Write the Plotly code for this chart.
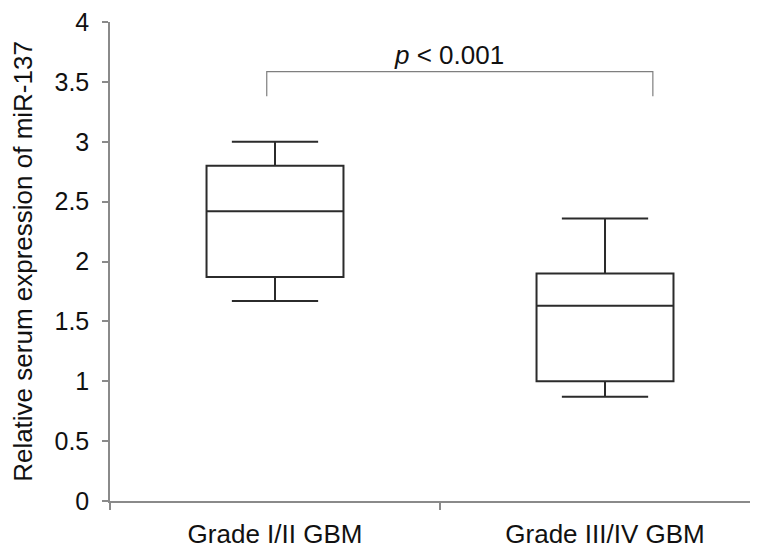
import plotly.graph_objects as go

groups = ["Grade I/II GBM", "Grade III/IV GBM"]
lower = [1.67, 0.87]
q1 = [1.87, 1.00]
median = [2.42, 1.63]
q3 = [2.80, 1.90]
upper = [3.00, 2.36]
y_ticks = [0, 0.5, 1, 1.5, 2, 2.5, 3, 3.5, 4]
y_tick_text = ["0", "0.5", "1", "1.5", "2", "2.5", "3", "3.5", "4"]
p_text = "<i>p</i> &lt; 0.001"
bracket_top = 3.585
bracket_leg = 3.38

FONT = "Liberation Sans, Arial, sans-serif"

fig = go.Figure()
fig.add_trace(go.Box(
    x=groups,
    q1=q1, median=median, q3=q3,
    lowerfence=lower, upperfence=upper,
    width=0.415,
    whiskerwidth=0.63,
    fillcolor="rgba(0,0,0,0)",
    line=dict(color="#2b2b2b", width=2),
    boxpoints=False,
    showlegend=False,
    hoverinfo="skip",
))

# significance bracket
fig.add_shape(type="path",
              path=f"M -0.025,{bracket_leg} L -0.025,{bracket_top} L 1.145,{bracket_top} L 1.145,{bracket_leg}",
              xref="x", yref="y", line=dict(color="#7f7f7f", width=1.2))
fig.add_annotation(x=0.527, y=3.727, xref="x", yref="y", text=p_text,
                   showarrow=False, font=dict(family=FONT, size=26, color="#111"),
                   yanchor="middle", xanchor="center")

# page body has an 8px margin, so shrink the figure to land on the window
fig.update_layout(
    width=750, height=541,
    margin=dict(l=102, r=0, t=12, b=46),
    paper_bgcolor="white", plot_bgcolor="white",
    font=dict(family=FONT, size=25, color="#111"),
)
fig.update_xaxes(
    type="category",
    range=[-0.5, 1.4636],
    showgrid=False, zeroline=False,
    showline=True, linecolor="#8a8a8a", linewidth=1.5,
    ticks="outside", ticklen=7, tickcolor="#8a8a8a", tickwidth=1.5,
    tickson="boundaries",
    tickfont=dict(family=FONT, size=26, color="#111"),
    ticklabelstandoff=9,
    ticklabeloverflow="allow",
)
fig.update_yaxes(
    range=[0, 4],
    tickvals=y_ticks, ticktext=y_tick_text,
    showgrid=False, zeroline=False,
    showline=True, linecolor="#8a8a8a", linewidth=1.5,
    ticks="outside", ticklen=6, tickcolor="#8a8a8a", tickwidth=1.5,
    tickfont=dict(family=FONT, size=25, color="#111"),
    ticklabelstandoff=8,
    ticklabeloverflow="allow",
    title=dict(text="Relative serum expression of miR-137",
               font=dict(family=FONT, size=26, color="#111"), standoff=16),
)

fig.write_html("out.html")
